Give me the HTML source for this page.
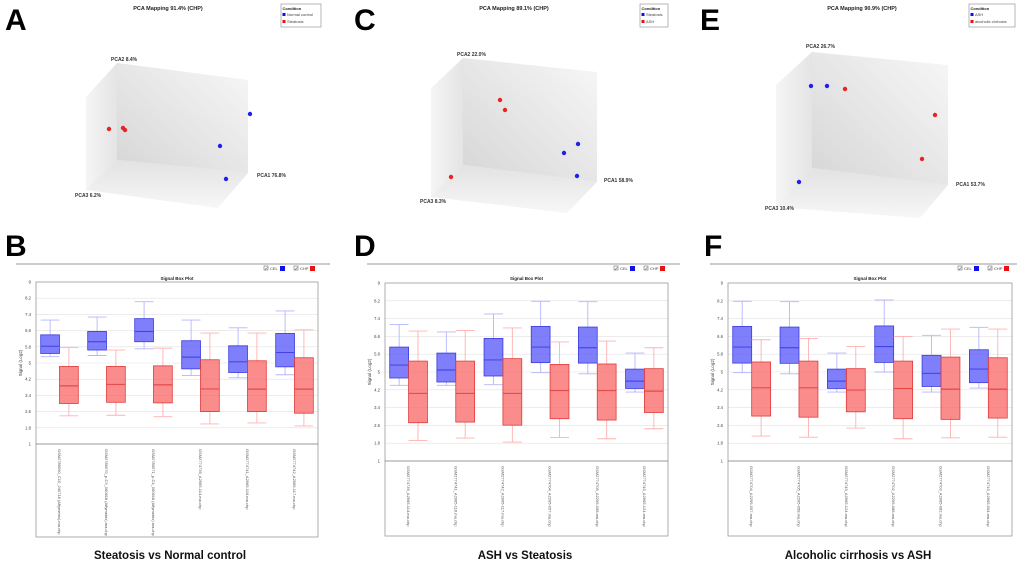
<!DOCTYPE html>
<html><head><meta charset="utf-8">
<style>
html,body{margin:0;padding:0;background:#fff;}
svg{display:block;font-family:"Liberation Sans",sans-serif;}
</style></head>
<body>
<svg id="fig" width="1020" height="563" viewBox="0 0 1020 563" xmlns="http://www.w3.org/2000/svg">
<defs>
<linearGradient id="gBack" x1="0" y1="1" x2="1" y2="0"><stop offset="0" stop-color="#d6d6d6"/><stop offset="1" stop-color="#f7f7f7"/></linearGradient>
<linearGradient id="gLeft" x1="0" y1="0" x2="1" y2="0"><stop offset="0" stop-color="#f5f5f5"/><stop offset="1" stop-color="#e4e4e4"/></linearGradient>
<linearGradient id="gFloor" x1="0" y1="0" x2="0" y2="1"><stop offset="0" stop-color="#e2e2e2"/><stop offset="1" stop-color="#f7f7f7"/></linearGradient>
</defs>
</svg>
<script>
// ---- PCA data (screen positions of samples) ----
const pcaTitles = ["PCA Mapping 91.4% (CHP)","PCA Mapping 89.1% (CHP)","PCA Mapping 90.9% (CHP)"];
const pcaLegendBlue = ["Normal control","Steatosis","ASH"];
const pcaLegendRed = ["Steatosis","ASH","alcoholic cirrhosis"];
const pcaAxisPC1 = ["PCA1 76.8%","PCA1 58.9%","PCA1 53.7%"];
const pcaAxisPC2 = ["PCA2 8.4%","PCA2 22.0%","PCA2 26.7%"];
const pcaAxisPC3 = ["PCA3 6.2%","PCA3 8.3%","PCA3 10.4%"];
const pcaBlueA = [[250,114],[220,146],[226,179]];
const pcaRedA = [[109,129],[123,128],[125,130]];
const pcaBlueC = [[578,144],[564,153],[577,176]];
const pcaRedC = [[500,100],[505,110],[451,177]];
const pcaBlueE = [[811,86],[827,86],[799,182]];
const pcaRedE = [[845,89],[935,115],[922,159]];

// ---- Box plot data: [min, q1, median, q3, max] ----
const yTicks = [1,1.8,2.6,3.4,4.2,5,5.8,6.6,7.4,8.2,9];
const B_cel = [[5.31,5.47,5.83,6.39,7.12],[5.37,5.64,6.05,6.56,7.27],[5.70,6.05,6.56,7.19,8.03],[4.38,4.71,5.29,6.10,7.12],[4.27,4.53,5.06,5.85,6.74],[4.42,4.81,5.52,6.46,7.57]];
const B_chp = [[2.39,3.0,3.87,4.83,5.77],[2.42,3.06,3.95,4.83,5.64],[2.35,3.03,3.92,4.86,5.73],[1.99,2.60,3.72,5.16,6.48],[2.04,2.60,3.71,5.11,6.48],[1.89,2.52,3.71,5.26,6.64]];
const D_cel = [[4.40,4.73,5.31,6.12,7.13],[4.40,4.55,5.09,5.85,6.80],[4.43,4.82,5.54,6.51,7.61],[4.97,5.42,6.12,7.05,8.18],[4.92,5.40,6.09,7.02,8.16],[4.10,4.26,4.59,5.13,5.85]];
const D_chp = [[1.92,2.72,4.04,5.49,6.84],[2.03,2.75,4.04,5.49,6.87],[1.85,2.61,4.04,5.60,6.98],[2.06,2.90,4.16,5.34,6.35],[2.00,2.84,4.16,5.36,6.39],[2.45,3.18,4.14,5.15,6.09]];
const F_cel = [[4.97,5.40,6.12,7.05,8.18],[4.92,5.39,6.09,7.02,8.16],[4.10,4.26,4.59,5.13,5.85],[5.00,5.43,6.14,7.07,8.24],[4.10,4.35,4.94,5.75,6.65],[4.28,4.52,5.13,6.00,7.01]];
const F_chp = [[2.12,3.02,4.29,5.45,6.45],[2.07,2.97,4.29,5.49,6.51],[2.48,3.21,4.19,5.15,6.15],[2.00,2.90,4.26,5.49,6.60],[2.04,2.87,4.23,5.67,6.93],[2.07,2.93,4.23,5.64,6.93]];
const B_names = ["GSM2785090_C10_240718 (Affymetrix).ma.chp","GSM2785070_p-C3_060818 (Affymetrix).ma.chp","GSM2785071_p-C4_060818 (Affymetrix).ma.chp","GSM2774739_A2965-114.ma.chp","GSM2774741_A2965-116.ma.chp","GSM2774742_A2965-117.ma.chp"];
const D_names = ["GSM2774739_A2965-114.ma.chp","GSM2774741_A2965-116.ma.chp","GSM2774742_A2965-117.ma.chp","GSM2774704_A2295-057.ma.chp","GSM2774705_A2295-058.ma.chp","GSM2774749_A2965-124.ma.chp"];
const F_names = ["GSM2774704_A2295-057.ma.chp","GSM2774705_A2295-058.ma.chp","GSM2774749_A2965-124.ma.chp","GSM2774702_A2295-088.ma.chp","GSM2774703_A2965-082.ma.chp","GSM2774719_A2965-094.ma.chp"];
const captions = ["Steatosis vs Normal control","ASH vs Steatosis","Alcoholic cirrhosis vs ASH"];

const NS="http://www.w3.org/2000/svg";
const svg=document.getElementById('fig');
function mk(tag,attrs,parent,text){const e=document.createElementNS(NS,tag);for(const k in attrs)e.setAttribute(k,attrs[k]);if(text!==undefined)e.textContent=text;(parent||svg).appendChild(e);return e;}

const letters=[["A",5,30],["C",354,30],["E",700,30],["B",5,256],["D",354,256],["F",704,256]];
letters.forEach(l=>{
  const t=mk('text',{x:l[1],y:l[2],'font-size':30,'font-weight':'bold',fill:'#000'},svg,l[0]);
  
  
});

const pcaGeo=[
 {tx:168,lg:[281,4,40],lw:[[86,97],[117,63],[117,160],[86,190]],bw:[[117,63],[248,80],[248,173],[117,160]],fl:[[86,190],[117,160],[248,173],[218,208]],p2:[111,61],p1:[257,177],p3:[75,197],blue:pcaBlueA,red:pcaRedA},
 {tx:514,lg:[640,4,28],lw:[[431,88],[463,58],[463,165],[431,197]],bw:[[463,58],[597,72],[597,182],[463,165]],fl:[[431,197],[463,165],[597,182],[567,213]],p2:[457,56],p1:[604,182],p3:[420,203],blue:pcaBlueC,red:pcaRedC},
 {tx:862,lg:[969,4,46],lw:[[776,85],[812,52],[812,168],[776,207]],bw:[[812,52],[948,65],[948,185],[812,168]],fl:[[776,207],[812,168],[948,185],[920,218]],p2:[806,48],p1:[956,186],p3:[765,210],blue:pcaBlueE,red:pcaRedE}
];
pcaGeo.forEach((g,i)=>{
  const grp=mk('g',{});
  
  
  const t=mk('text',{x:g.tx,y:10,'font-size':5.5,'font-weight':'bold','text-anchor':'middle',fill:'#222'},grp,pcaTitles[i]);
  
  
  const pts=a=>a.map(p=>p.join(',')).join(' ');
  const w1=mk('polygon',{points:pts(g.lw),fill:'url(#gLeft)'},grp);
  
  
  const w2=mk('polygon',{points:pts(g.bw),fill:'url(#gBack)'},grp);
  
  
  const w3=mk('polygon',{points:pts(g.fl),fill:'url(#gFloor)'},grp);
  
  
  [[g.p2,pcaAxisPC2[i]],[g.p1,pcaAxisPC1[i]],[g.p3,pcaAxisPC3[i]]].forEach(a=>{
    const at=mk('text',{x:a[0][0],y:a[0][1],'font-size':5,'font-weight':'bold',fill:'#333'},grp,a[1]);
    
    
  });
  g.blue.forEach(p=>{const c=mk('circle',{cx:p[0],cy:p[1],r:2.2,fill:'#2020ee'},grp);
    
    });
  g.red.forEach(p=>{const c=mk('circle',{cx:p[0],cy:p[1],r:2.2,fill:'#ee2020'},grp);
    
    });
  const [lx,ly,lw]=g.lg;
  const lgG=mk('g',{},grp);
  
  
  mk('rect',{x:lx,y:ly,width:lw,height:23,fill:'#fff',stroke:'#999','stroke-width':0.7},lgG);
  mk('text',{x:lx+1.5,y:ly+6,'font-size':4,'font-weight':'bold',fill:'#222'},lgG,'Condition');
  mk('rect',{x:lx+1.5,y:ly+9,width:3,height:3,fill:'#1010ee'},lgG);
  mk('text',{x:lx+6,y:ly+12,'font-size':4,fill:'#444'},lgG,pcaLegendBlue[i]);
  mk('rect',{x:lx+1.5,y:ly+16,width:3,height:3,fill:'#ee1010'},lgG);
  mk('text',{x:lx+6,y:ly+19,'font-size':4,fill:'#444'},lgG,pcaLegendRed[i]);
});

const boxPanels=[
 {L:36,R:318,T:282,B:444,LB:537,sep:[16,330],leg:264,cel:B_cel,chp:B_chp,names:B_names,cap:captions[0],capX:170},
 {L:385,R:668,T:283,B:461,LB:536,sep:[367,680],leg:614,cel:D_cel,chp:D_chp,names:D_names,cap:captions[1],capX:525},
 {L:728,R:1012,T:283,B:461,LB:536,sep:[710,1017],leg:958,cel:F_cel,chp:F_chp,names:F_names,cap:captions[2],capX:858}
];
boxPanels.forEach((p,pi)=>{
  const grp=mk('g',{});
  
  
  const y=v=>p.B-(v-1)/8*(p.B-p.T);
  const sep=mk('line',{x1:p.sep[0],x2:p.sep[1],y1:264,y2:264,stroke:'#999','stroke-width':1},grp);
  
  
  const lg=mk('g',{},grp);
  
  
  [["CEL","#1010ee",0],["CHP","#ee1010",30]].forEach(e=>{
    const x=p.leg+e[2];
    mk('rect',{x:x,y:266,width:4,height:4,fill:'#fff',stroke:'#555','stroke-width':0.5},lg);
    mk('text',{x:x+0.5,y:270,'font-size':4.5,fill:'#222'},lg,'✓');
    mk('text',{x:x+6,y:270,'font-size':4,fill:'#444'},lg,e[0]);
    mk('rect',{x:x+16,y:266,width:5,height:5,fill:e[1]},lg);
  });
  const tt=mk('text',{x:(p.L+p.R)/2,y:280,'font-size':4.5,'font-weight':'bold','text-anchor':'middle',fill:'#222'},grp,'Signal Box Plot');
  
  
  yTicks.forEach(v=>{
    if(v>1&&v<9) mk('line',{x1:p.L,x2:p.R,y1:y(v),y2:y(v),stroke:'#e2e2e2','stroke-width':0.6},grp);
    const tk=mk('text',{x:p.L-5,y:y(v)+1.5,'font-size':4.2,'text-anchor':'end',fill:'#444'},grp,String(v));
    
    
  });
  const yl=mk('text',{x:0,y:0,'font-size':4.5,'text-anchor':'middle',fill:'#444',transform:`translate(${p.L-14},${(p.T+p.B)/2}) rotate(-90)`},grp,'Signal (Log2)');
  
  
  const gw=(p.R-p.L)/6, bw=gw*0.4;
  const drawBox=(s,x,fill,stroke,wh,name)=>{
    const bg=mk('g',{},grp);
    
    
    const cx=x+bw/2;
    mk('line',{x1:cx,x2:cx,y1:y(s[4]),y2:y(s[3]),stroke:wh,'stroke-width':0.9},bg);
    mk('line',{x1:cx,x2:cx,y1:y(s[1]),y2:y(s[0]),stroke:wh,'stroke-width':0.9},bg);
    mk('line',{x1:x,x2:x+bw,y1:y(s[4]),y2:y(s[4]),stroke:wh,'stroke-width':0.9},bg);
    mk('line',{x1:x,x2:x+bw,y1:y(s[0]),y2:y(s[0]),stroke:wh,'stroke-width':0.9},bg);
    mk('rect',{x:x,y:y(s[3]),width:bw,height:Math.abs(y(s[1])-y(s[3])),fill:fill,stroke:stroke,'stroke-width':0.8},bg);
    mk('line',{x1:x,x2:x+bw,y1:y(s[2]),y2:y(s[2]),stroke:stroke,'stroke-width':0.9},bg);
  };
  for(let i=0;i<6;i++){
    const x0=p.L+gw*i+gw*0.1;
    drawBox(p.cel[i],x0,'rgba(95,95,250,0.8)','#3a3ae0','#b5b5ff','cel-box-'+(i+1));
    drawBox(p.chp[i],x0+bw,'rgba(250,95,95,0.72)','#e03a3a','#ffb0b0','chp-box-'+(i+1));
    const lbl=mk('text',{x:0,y:0,'font-size':4,fill:'#555',transform:`translate(${x0+bw-1.5},${p.B+5}) rotate(90)`},grp,p.names[i]);
    
    
  }
  const fr=mk('rect',{x:p.L,y:p.T,width:p.R-p.L,height:p.LB-p.T,fill:'none',stroke:'#999','stroke-width':0.8},grp);
  
  
  mk('line',{x1:p.L,x2:p.R,y1:p.B,y2:p.B,stroke:'#777','stroke-width':0.8},grp);
  const cap=mk('text',{x:p.capX,y:559,'font-size':11.5,'font-weight':'bold','text-anchor':'middle',fill:'#111'},grp,p.cap);
  
  
});
</script>
</body></html>
